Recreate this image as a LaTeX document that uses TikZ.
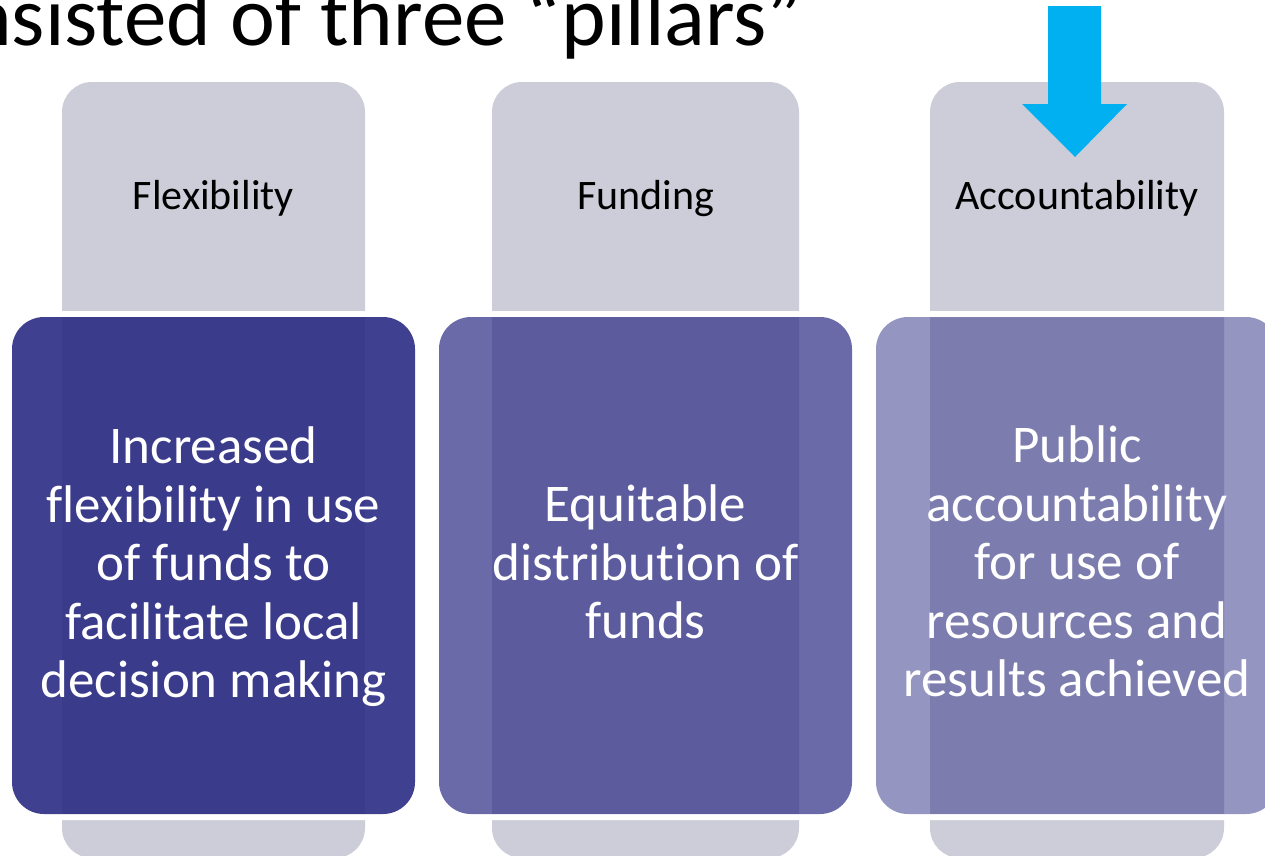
\documentclass[tikz,border=0pt]{standalone}
\usepackage{fontspec}
\setmainfont{Carlito}[Ligatures={NoCommon,NoDiscretionary,NoRare}]
\definecolor{pillargray}{RGB}{205,205,217}
\definecolor{boxblue}{RGB}{44,44,132}
\definecolor{arrowcyan}{RGB}{0,176,240}
\tikzset{
  pillar/.style={fill=pillargray, rounded corners=30pt},
  gapring/.style={fill=white, even odd rule},
  labeltext/.style={anchor=base, text=black, inner sep=0pt, font=\fontsize{42}{50}\selectfont},
  boxtext/.style={anchor=center, text=white, align=center, inner sep=0pt, font=\fontsize{53}{58.5}\selectfont},
}
\begin{document}
\begin{tikzpicture}[x=1pt,y=-1pt]
\useasboundingbox (0,0) rectangle (1265,855);
\fill[white] (0,0) rectangle (1265,855);
% title (cut at the left edge)
\node[anchor=base west, inner sep=0pt, font=\fontsize{85}{97}\selectfont] (title) at (-33,45) {nsisted of three “pillars”};
% gray pillars
\fill[pillar] (62,82) rectangle (365,858);
\fill[pillar] (492,82) rectangle (799,858);
\fill[pillar] (930,82) rectangle (1224,858);
% arrow
\fill[arrowcyan] (1048,6) -- (1101,6) -- (1101,104) -- (1127,104) -- (1075,157) -- (1022,104) -- (1048,104) -- cycle;
% labels
\node[labeltext] (flex) at (213.5,209) {Flexibility};
\node[labeltext] (fund) at (645.5,209) {Funding};
\node[labeltext] (acct) at (1077,209) {Accountability};
% white gaps round the boxes
\fill[gapring] [rounded corners=37pt] (6,311) rectangle (421,820) [rounded corners=32pt] (12,317) rectangle (415,814);
\fill[gapring] [rounded corners=37pt] (433,311) rectangle (858,820) [rounded corners=32pt] (439,317) rectangle (852,814);
\fill[gapring] [rounded corners=37pt] (870,311) rectangle (1284,820) [rounded corners=32pt] (876,317) rectangle (1278,814);
% boxes
\fill[boxblue, fill opacity=0.9, rounded corners=32pt] (12,317) rectangle (415,814);
\fill[boxblue, fill opacity=0.7, rounded corners=32pt] (439,317) rectangle (852,814);
\fill[boxblue, fill opacity=0.5, rounded corners=32pt] (876,317) rectangle (1278,814);
% box texts
\node[boxtext] (b1) at (213.5,567) {Increased\\flexibility in use\\of funds to\\facilitate local\\decision making};
\node[boxtext] (b2) at (645.5,562) {Equitable\\distribution of\\funds};
\node[boxtext] (b3) at (1077,561.5) {Public\\accountability\\for use of\\resources and\\results achieved};
\end{tikzpicture}
\end{document}
